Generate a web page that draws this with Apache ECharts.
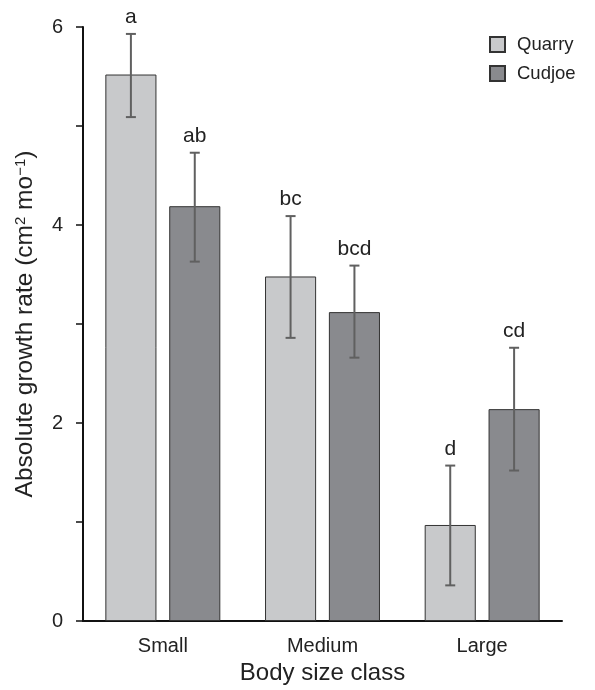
<!DOCTYPE html>
<html>
<head>
<meta charset="utf-8">
<script src="https://cdn.jsdelivr.net/npm/echarts@6/dist/echarts.min.js"></script>
<style>html,body{margin:0;padding:0;background:#fff;}#c{width:595px;height:690px;}</style>
</head>
<body>
<div id="c"></div>
<script>
const categories = ['Small', 'Medium', 'Large'];
const seriesNames = ['Quarry', 'Cudjoe'];
const quarryValues = [5.52, 3.48, 0.97];
const quarryErrLow = [5.09, 2.86, 0.36];
const quarryErrHigh = [5.93, 4.09, 1.57];
const quarryLetters = ['a', 'bc', 'd'];
const cudjoeValues = [4.19, 3.12, 2.14];
const cudjoeErrLow = [3.63, 2.66, 1.52];
const cudjoeErrHigh = [4.73, 3.59, 2.76];
const cudjoeLetters = ['ab', 'bcd', 'cd'];
const yTickValues = [0, 2, 4, 6];

const FONT = '"Liberation Sans", Arial, Helvetica, sans-serif';
const colors = ['#c8c9cb', '#898a8e'];

function errData(low, high, letters) {
  return categories.map((c, i) => [i, low[i], high[i], letters[i]]);
}

function makeErr(seriesIdx) {
  return function (params, api) {
    const cat = api.value(0);
    const lo = api.coord([cat, api.value(1)]);
    const hi = api.coord([cat, api.value(2)]);
    const bw = api.size([1, 0])[0];
    const barW = bw * 0.32;
    const gap = barW * 0.25;
    const off = (seriesIdx === 0 ? -1 : 1) * (barW / 2 + gap / 2);
    const x = lo[0] + off;
    const cap = 5;
    const st = { stroke: '#606060', lineWidth: 2 };
    return {
      type: 'group',
      children: [
        { type: 'line', shape: { x1: x, y1: lo[1], x2: x, y2: hi[1] }, style: st },
        { type: 'line', shape: { x1: x - cap, y1: lo[1], x2: x + cap, y2: lo[1] }, style: st },
        { type: 'line', shape: { x1: x - cap, y1: hi[1], x2: x + cap, y2: hi[1] }, style: st },
        { type: 'text', style: { x: x, y: hi[1] - 6, text: api.value(3), fill: '#222', font: '21px ' + FONT, textAlign: 'center', textVerticalAlign: 'bottom' } }
      ]
    };
  };
}

const chart = echarts.init(document.getElementById('c'));
chart.setOption({
  animation: false,
  backgroundColor: '#fff',
  textStyle: { fontFamily: FONT },
  grid: { left: 83, right: 33, top: 27, bottom: 69 },
  legend: {
    data: seriesNames,
    orient: 'vertical',
    left: 484,
    top: 30,
    itemWidth: 15,
    itemHeight: 15,
    itemGap: 10,
    icon: 'rect',
    textStyle: { fontSize: 18.5, color: '#222', fontFamily: FONT, padding: [0, 0, 0, 7] }
  },
  xAxis: {
    type: 'category',
    data: categories,
    name: 'Body size class',
    nameLocation: 'middle',
    nameGap: 34,
    nameTextStyle: { fontSize: 24, color: '#222', fontFamily: FONT },
    axisLine: { lineStyle: { color: '#111', width: 2 } },
    axisTick: { length: 7, lineStyle: { color: '#111', width: 1.5 } },
    axisLabel: { fontSize: 20, color: '#222', margin: 15, fontFamily: FONT }
  },
  yAxis: {
    type: 'value',
    min: 0,
    max: 6,
    interval: 1,
    name: 'Absolute growth rate (cm{sup|2} mo{sup|\u22121})',
    nameLocation: 'middle',
    nameGap: 45,
    nameTextStyle: {
      fontSize: 24.5, color: '#222', fontFamily: FONT,
      rich: { sup: { fontSize: 15, color: '#222', fontFamily: FONT, verticalAlign: 'top', padding: [0, 0, 8, 0] } }
    },
    axisLine: { show: true, lineStyle: { color: '#111', width: 2 } },
    axisTick: { show: true, length: 7, lineStyle: { color: '#111', width: 1.5 } },
    splitLine: { show: false },
    axisLabel: {
      fontSize: 20, color: '#222', margin: 20, fontFamily: FONT,
      formatter: v => (yTickValues.indexOf(v) >= 0 ? String(v) : '')
    }
  },
  series: [
    {
      name: seriesNames[0], type: 'bar', data: quarryValues,
      barWidth: '32%', barGap: '25%',
      itemStyle: { color: colors[0], borderColor: '#333', borderWidth: 1 }
    },
    {
      name: seriesNames[1], type: 'bar', data: cudjoeValues,
      barWidth: '32%', barGap: '25%',
      itemStyle: { color: colors[1], borderColor: '#333', borderWidth: 1 }
    },
    {
      type: 'custom', renderItem: makeErr(0), data: errData(quarryErrLow, quarryErrHigh, quarryLetters),
      encode: { x: 0, y: [1, 2] }, z: 10, silent: true
    },
    {
      type: 'custom', renderItem: makeErr(1), data: errData(cudjoeErrLow, cudjoeErrHigh, cudjoeLetters),
      encode: { x: 0, y: [1, 2] }, z: 10, silent: true
    }
  ]
});
</script>
</body>
</html>
